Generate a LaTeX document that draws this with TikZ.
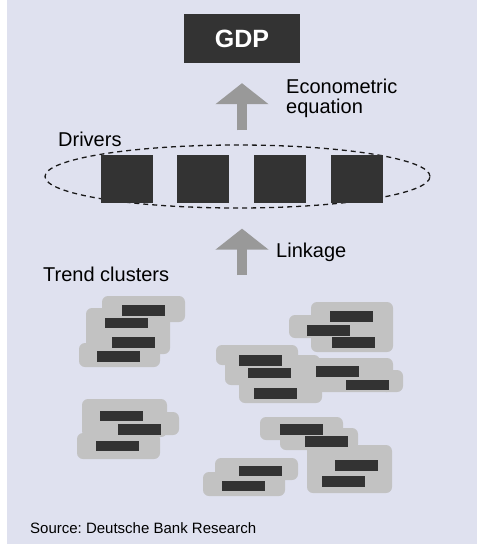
\documentclass[tikz,border=0pt]{standalone}
\usepackage{fontspec}
\setmainfont{Liberation Sans}
\usetikzlibrary{shapes.geometric,arrows.meta}
\definecolor{bgpanel}{HTML}{DFE1EF}
\definecolor{darkbox}{HTML}{333333}
\definecolor{blobgray}{HTML}{C2C2C2}
\definecolor{arrowgray}{HTML}{999999}
\frenchspacing

\begin{document}
\begin{tikzpicture}
      [%%%%%%%%%%%%%%%%%%%%%%%%%%%%%%
      x=1pt,y=-1pt,
      driver/.style={rectangle,fill=darkbox,inner sep=0pt,minimum width=52pt,minimum height=48pt},
      bar/.style={rectangle,fill=darkbox,inner sep=0pt,minimum width=43pt,minimum height=10.5pt},
      blob/.style={fill=blobgray,rounded corners=6pt},
      label/.style={inner sep=0pt,anchor=base west,font=\fontsize{20}{20}\selectfont},
      bigarrow/.style={draw=arrowgray,line width=10pt,-{Triangle[width=52pt,length=21pt]}},
      ]%%%%%%%%%%%%%%%%%%%%%%%%%%%%%%

      \fill[bgpanel] (7,0) rectangle (477,544);
      \useasboundingbox (0,0) rectangle (479,544);

      % top
      \node[rectangle,fill=darkbox,text=white,inner sep=0pt,minimum width=116pt,minimum height=49pt,
            font=\bfseries\fontsize{25}{25}\selectfont] (gdp) at (242,38.5) {GDP};

      % drivers
      \node[ellipse,draw=black!90,dash pattern=on 5pt off 4pt,line width=1.3pt,
            minimum width=385pt,minimum height=63pt,inner sep=0pt] (drv) at (237.5,176.5) {};
      \foreach \x [count=\i] in {127,203,280,357}
        \node[driver] (d\i) at (\x,179) {};

      \node[label] (drvlabel) at (58,146) {Drivers};
      \node[label,anchor=north west,align=left] (eqlabel) at (286,79) {Econometric\\equation};
      \node[label] (lnklabel) at (276,257) {Linkage};
      \node[label] (trdlabel) at (43,281) {Trend clusters};

      \coordinate (top) at (gdp.south |- drv.north);
      \coordinate (bot) at (gdp.south |- drv.south);
      \coordinate (lnk) at (242,275);
      \draw[bigarrow] ([yshift=14pt]top) -- ([yshift=-20pt]gdp.south);
      \draw[bigarrow] (lnk) -- ([yshift=-20pt]bot);

      % clusters
      \fill[blob] (102,296) rectangle (185,322);
      \fill[blob] (86,308) rectangle (170,354);
      \fill[blob] (79,343) rectangle (160,367);

      \fill[blob] (82,399) rectangle (167,437);
      \fill[blob] (100,412) rectangle (179,435);
      \fill[blob] (77,433) rectangle (160,459);

      \fill[blob] (311,302) rectangle (393,352);
      \fill[blob] (289,315) rectangle (330,338);

      \fill[blob] (216,345) rectangle (298,365);
      \fill[blob] (225,355) rectangle (320,385);
      \fill[blob] (239,375) rectangle (322,403);
      \fill[blob] (300,358) rectangle (393,392);
      \fill[blob] (380,370) rectangle (403,392);

      \fill[blob] (260,417) rectangle (343,440);
      \fill[blob] (280,428) rectangle (358,450);
      \fill[blob] (307,445) rectangle (392,493);

      \fill[blob] (215,458) rectangle (298,480);
      \fill[blob] (203,472) rectangle (285,496);

      \foreach \x/\y [count=\i] in {143.5/310.5,126.5/323,133.5/342.5,118.5/356.5,
                                    121.5/416,139.5/429.5,117.5/446,
                                    351.5/316.5,328.5/330.5,353.5/342.5,
                                    260.5/360.5,269.5/373,275.5/393.5,337.5/371.5,367.5/385,
                                    301.5/429.5,326.5/441.5,356.5/465.5,343.5/481.5,
                                    260.5/471,243.5/486}
        \node[bar] (bar\i) at (\x,\y) {};

      \node[label,font=\fontsize{15}{15}\selectfont] (src) at (30,533) {Source: Deutsche Bank Research};
    \end{tikzpicture}
\end{document}
